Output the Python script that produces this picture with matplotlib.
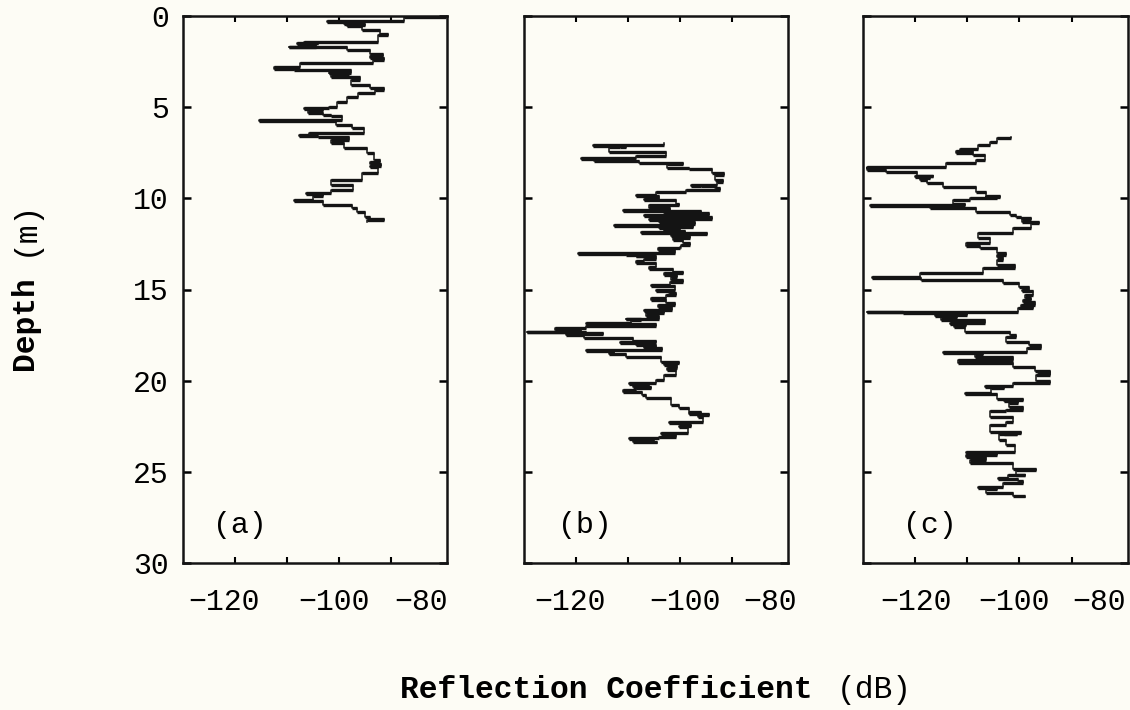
import numpy as np
import matplotlib
matplotlib.use("Agg")
import matplotlib.pyplot as plt

# depth (m) where each reflection value starts, and the value (dB)
depth_a = [0.0, 0.05, 0.27, 0.33, 0.4, 0.45, 0.5, 0.55, 0.77, 1.0, 1.05, 1.41, 1.46, 1.5,
           1.55, 1.68, 1.72, 1.86, 2.1, 2.2, 2.3, 2.4, 2.6, 2.78, 2.9, 2.96, 3.1, 3.15, 3.2,
           3.33, 3.5, 3.78, 3.95, 4.06, 4.24, 4.42, 4.7, 4.97, 5.05, 5.1, 5.15, 5.3, 5.43,
           5.5, 5.7, 5.75, 5.98, 6.16, 6.43, 6.55, 6.6, 6.65, 6.8, 6.98, 7.25, 7.53, 7.9,
           8.0, 8.1, 8.2, 8.3, 8.62, 8.99, 9.26, 9.54, 9.7, 9.75, 9.85, 10.09, 10.15, 10.36,
           10.55, 10.73, 11.0, 11.15, 11.2, 11.3]
refl_a = [-79.3, -87.4, -102.2, -97.5, -99, -95, -98.5, -95.5, -92, -90.6, -92.5, -106.7, -104,
          -108, -104.5, -109.6, -98.5, -94, -91.5, -94, -91.3, -93.5, -107.5, -112.5, -108.7,
          -97.7, -102, -98, -101.5, -96, -97.7, -94, -91.3, -93, -96.4, -98.5, -100.3, -102,
          -106.7, -103, -106, -103, -101.5, -99.5, -115.4, -100.5, -97.4, -95.2, -105.8,
          -107.7, -104, -98, -101.5, -99, -94.5, -93.2, -92, -94, -91.9, -94, -92.5, -95.5,
          -101.6, -97.2, -101.6, -106.3, -103, -105, -108.7, -103, -97.5, -96.5, -95, -94,
          -91.3, -94.5, -94.5]

depth_b = [6.98, 7.07, 7.12, 7.16, 7.2, 7.44, 7.7, 7.81, 7.85, 7.95, 8.08, 8.1, 8.35, 8.4,
           8.63, 8.7, 8.99, 9.1, 9.27, 9.3, 9.35, 9.45, 9.55, 9.63, 9.81, 9.85, 10.05, 10.09,
           10.3, 10.36, 10.55, 10.63, 10.68, 10.75, 10.8, 10.9, 10.95, 11.0, 11.05, 11.12,
           11.18, 11.25, 11.32, 11.4, 11.46, 11.52, 11.58, 11.64, 11.7, 11.78, 11.83, 11.88,
           11.95, 12.05, 12.15, 12.28, 12.45, 12.56, 12.65, 12.74, 12.85, 13.01, 13.05, 13.1,
           13.15, 13.19, 13.3, 13.45, 13.56, 13.74, 13.9, 14.02, 14.1, 14.2, 14.3, 14.48,
           14.6, 14.75, 14.8, 15.02, 15.1, 15.21, 15.3, 15.48, 15.55, 15.75, 15.85, 15.95,
           16.12, 16.2, 16.3, 16.45, 16.6, 16.64, 16.7, 16.85, 16.9, 17.0, 17.1, 17.2, 17.31,
           17.35, 17.4, 17.45, 17.5, 17.67, 17.8, 17.86, 17.95, 18.0, 18.05, 18.13, 18.2,
           18.31, 18.4, 18.49, 18.55, 18.68, 18.95, 19.05, 19.15, 19.32, 19.4, 19.68, 19.96,
           20.14, 20.2, 20.25, 20.32, 20.4, 20.51, 20.6, 20.78, 20.96, 21.33, 21.51, 21.7,
           21.78, 21.85, 21.9, 21.97, 22.24, 22.3, 22.45, 22.51, 22.55, 22.88, 22.95, 23.1,
           23.15, 23.2, 23.28, 23.34, 23.4]
refl_b = [-103, -116.7, -110.4, -111.6, -113.6, -102.7, -108.5, -119, -116.5, -107.8, -99.5,
          -102.5, -98.3, -93.8, -91.6, -93.2, -91.8, -92.8, -97.9, -96, -93.2, -92.2, -98.9,
          -104.6, -108.5, -104, -106.9, -100.8, -100.2, -105.9, -102, -111, -96, -103, -94.4,
          -107, -98, -104, -93.8, -106, -99, -104, -97, -103, -112.6, -97.5, -104, -100, -103,
          -99, -107.5, -94.8, -101.8, -98, -101.4, -99.5, -98, -99.8, -100, -104.3, -101,
          -119.6, -110.4, -105, -108.5, -104.6, -107, -108.5, -104.6, -105.9, -101.4, -99.5,
          -103, -100.5, -101.8, -99.5, -102, -105.6, -101, -104.6, -102.1, -100.8, -102.7,
          -105.6, -102.7, -101, -104.3, -101.5, -107, -103, -106.5, -104, -110.4, -107.5,
          -109.5, -118, -104.6, -118, -124, -119, -129.5, -118, -114.8, -122, -118.5, -109.1,
          -104.6, -111.6, -106.5, -108.5, -104.6, -106.9, -103.5, -118, -112.6, -113.6,
          -110.4, -103.7, -100.2, -103, -100.5, -102.5, -100.8, -103, -104.6, -109.7, -106,
          -109, -105.5, -108.5, -111, -107.2, -106.5, -101.8, -100.2, -98.3, -96, -98.3,
          -94.4, -96.5, -95.5, -102.1, -99, -97.9, -100.2, -98.5, -103.7, -100.8, -104,
          -109.7, -105, -109, -104.5, -104.5]

depth_c = [6.65, 6.71, 6.89, 7.07, 7.3, 7.35, 7.4, 7.5, 7.62, 7.89, 8.08, 8.26, 8.32, 8.35,
           8.45, 8.53, 8.75, 8.8, 8.85, 8.9, 9.0, 9.17, 9.36, 9.63, 9.85, 9.9, 9.95, 10.0,
           10.09, 10.3, 10.36, 10.42, 10.54, 10.73, 10.91, 11.05, 11.1, 11.15, 11.3, 11.37,
           11.64, 11.92, 12.19, 12.47, 12.6, 12.74, 13.0, 13.1, 13.2, 13.38, 13.65, 13.84,
           14.11, 14.29, 14.38, 14.48, 14.66, 14.84, 15.0, 15.1, 15.3, 15.45, 15.57, 15.7,
           15.85, 15.95, 16.03, 16.21, 16.26, 16.3, 16.4, 16.45, 16.5, 16.67, 16.85, 16.9,
           16.95, 17.03, 17.31, 17.5, 17.58, 17.86, 18.04, 18.22, 18.45, 18.49, 18.55, 18.68,
           18.86, 19.04, 19.23, 19.45, 19.5, 19.6, 19.68, 20.0, 20.14, 20.3, 20.35, 20.41,
           20.69, 20.75, 21.0, 21.05, 21.1, 21.2, 21.42, 21.6, 21.69, 21.97, 22.24, 22.42,
           22.8, 22.85, 22.9, 22.95, 23.25, 23.52, 23.89, 23.95, 24.1, 24.16, 24.34, 24.52,
           24.85, 24.9, 25.16, 25.2, 25.35, 25.4, 25.53, 25.6, 25.85, 25.9, 25.95, 26.17,
           26.35, 26.4]
refl_c = [-101.6, -104.4, -105.7, -108, -111.5, -108.9, -112.1, -108.9, -106.7, -108.3,
          -114, -129.3, -126.7, -129.3, -125.5, -119.7, -116.6, -120.1, -117.2, -119, -117.8,
          -114.6, -108.3, -106.4, -103.8, -106.4, -104.4, -109.5, -112.7, -110.5, -128.7,
          -117.2, -108.3, -101.9, -100.6, -99.8, -97.7, -99.5, -96.2, -97.7, -101.3, -108,
          -105.7, -110.2, -107.6, -104.4, -102.5, -104.4, -103.2, -104.4, -100.9, -107,
          -119.1, -128.3, -118.8, -103.2, -100, -98.1, -99.5, -97.4, -98.9, -97.7, -99.3,
          -97.1, -99.7, -97.4, -100.3, -129.3, -122.3, -110, -116.2, -112, -115, -106.7,
          -113.4, -110.2, -112.5, -110.5, -101.9, -100.6, -102.5, -98.1, -95.8, -98.5,
          -114.6, -107, -108.5, -101.3, -111.8, -101.3, -97.1, -94.2, -96.5, -94.2, -96.8,
          -94.2, -101.3, -106.7, -103, -105.5, -110.5, -104.4, -99.3, -103, -100.2, -102,
          -99.3, -102.5, -105.7, -101.3, -102.5, -105.7, -99.7, -103, -100.5, -104, -102.5,
          -100.9, -110.2, -104.4, -110.2, -106.5, -109.5, -101.3, -96.8, -100.6, -99, -102.2,
          -104.1, -100.3, -99.3, -103.2, -108, -104.4, -106.5, -101.3, -99, -99]

panel_names = ["(a)", "(b)", "(c)"]
x_labels = ["\u2212120", "\u2212100", "\u221280"]
x_ticks = [-120, -110, -100, -90]
y_ticks = [0, 5, 10, 15, 20, 25, 30]

# layout, in pixels of the 1130x710 picture
W, H = 1130, 710
ax_left = [183, 524, 863]
ax_width = [264, 264, 265]
ax_top, ax_bottom = 16, 563
label_pos = [[-122.1, -101.0, -84.2], [-121.2, -99.0, -82.6], [-119.9, -101.1, -84.7]]
name_x = [0.115, 0.13, 0.15]

bg = "#fdfcf5"
ink = "#141414"
mono = "Liberation Mono"

fig = plt.figure(figsize=(W / 100, H / 100), dpi=100, facecolor=bg)

profiles = [(depth_a, refl_a), (depth_b, refl_b), (depth_c, refl_c)]
for i, (dep, ref) in enumerate(profiles):
    ax = fig.add_axes([ax_left[i] / W, (H - ax_bottom) / H,
                       ax_width[i] / W, (ax_bottom - ax_top) / H])
    ax.set_facecolor(bg)
    # thin verticals, heavier horizontal jumps like the old plotter output
    ax.plot(ref, dep, drawstyle="steps-pre", color=ink, lw=1.1)
    ax.hlines(dep[1:], ref[:-1], ref[1:], color=ink, lw=2.4)
    ax.set_xlim(-130, -79.2)
    ax.set_ylim(30, 0)

    # labels sit where the original typed them; marks every 10 dB
    ax.set_xticks(label_pos[i])
    ax.set_xticklabels(x_labels, fontfamily=mono, fontsize=21.5)
    ax.set_xticks(x_ticks, minor=True)
    ax.tick_params(axis="x", which="major", length=0, pad=18)
    ax.tick_params(axis="x", which="minor", direction="in", top=True, bottom=True,
                   length=4, width=1.5)

    ax.set_yticks(y_ticks)
    ax.tick_params(axis="y", which="major", direction="in", left=True, right=True,
                   length=5.5, width=1.8, pad=10)
    if i == 0:
        ax.set_yticklabels([str(t) for t in y_ticks], fontfamily=mono, fontsize=21.5)
    else:
        ax.set_yticklabels([])

    for sp in ax.spines.values():
        sp.set_linewidth(1.8)
        sp.set_color(ink)

    ax.text(name_x[i], 0.07, panel_names[i], transform=ax.transAxes,
            fontfamily=mono, fontsize=21.5, ha="left", va="center")

# axis titles: bold words, plain units
fig.text(400 / W, 1 - 690 / H, "Reflection Coefficient", fontfamily=mono,
         fontweight="bold", fontsize=22.5, ha="left", va="center")
fig.text(837 / W, 1 - 690 / H, "(dB)", fontfamily=mono, fontsize=22.5,
         ha="left", va="center")
fig.text(25 / W, 1 - 370 / H, "Depth", fontfamily=mono, fontweight="bold",
         fontsize=22.5, rotation=90, ha="center", va="bottom")
fig.text(25 / W, 1 - 256 / H, "(m)", fontfamily=mono, fontsize=22.5,
         rotation=90, ha="center", va="bottom")

fig.savefig("out.png", dpi=100, facecolor=bg)
